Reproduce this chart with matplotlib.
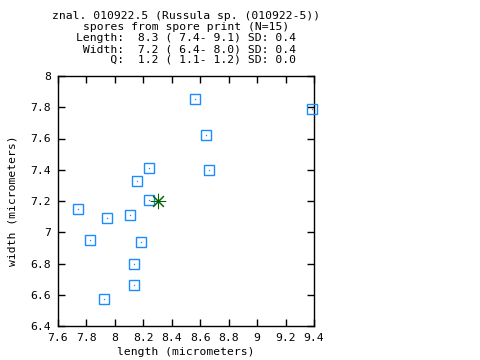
import matplotlib
matplotlib.use("Agg")
import matplotlib.pyplot as plt

length = [8.563, 9.386, 8.640, 8.662, 8.240, 8.156, 8.240, 7.740, 7.945, 8.106,
          7.825, 8.184, 8.134, 8.134, 7.923]
width = [7.853, 7.789, 7.622, 7.398, 7.411, 7.328, 7.206, 7.149, 7.091, 7.110,
         6.950, 6.938, 6.797, 6.662, 6.573]
mean_len = [8.3]
mean_wid = [7.2]
xticks = [7.6, 7.8, 8.0, 8.2, 8.4, 8.6, 8.8, 9.0, 9.2, 9.4]
xticklabels = ["7.6", "7.8", "8", "8.2", "8.4", "8.6", "8.8", "9", "9.2", "9.4"]
yticks = [6.4, 6.6, 6.8, 7.0, 7.2, 7.4, 7.6, 7.8, 8.0]
yticklabels = ["6.4", "6.6", "6.8", "7", "7.2", "7.4", "7.6", "7.8", "8"]
title_lines = [
    "znal. 010922.5 (Russula sp. (010922-5))",
    "spores from spore print (N=15)",
    "Length:  8.3 ( 7.4- 9.1) SD: 0.4",
    " Width:  7.2 ( 6.4- 8.0) SD: 0.4",
    "     Q:  1.2 ( 1.1- 1.2) SD: 0.0",
]

W, H = 480, 360
fig = plt.figure(figsize=(4.8, 3.6), dpi=100)
ax = fig.add_axes([58 / W, 1 - 326 / H, 256 / W, 250 / H])

FONT = "DejaVu Sans Mono"
FS = 8.2
blue = "#1a8cff"

ax.plot(length, width, linestyle="none", marker="s", markersize=7.4,
        markerfacecolor="none", markeredgecolor=blue, markeredgewidth=1.0,
        clip_on=False, zorder=3)
ax.plot(length, width, linestyle="none", marker="s", markersize=0.9,
        markerfacecolor=blue, markeredgecolor="none", clip_on=False, zorder=3)
ax.plot(mean_len, mean_wid, linestyle="none", marker=(8, 2, 0), markersize=11,
        markeredgecolor="#006400", markeredgewidth=0.75, zorder=4)
ax.plot(mean_len, mean_wid, linestyle="none", marker="o", markersize=2.2,
        markerfacecolor="#006400", markeredgecolor="none", zorder=4)

ax.set_xlim(7.6, 9.4)
ax.set_ylim(6.4, 8.0)
ax.set_xticks(xticks)
ax.set_xticklabels(xticklabels, family=FONT, fontsize=FS)
ax.set_yticks(yticks)
ax.set_yticklabels(yticklabels, family=FONT, fontsize=FS)
ax.tick_params(direction="in", length=5, width=1, top=True, right=True,
               pad=5, colors="black")
for s in ax.spines.values():
    s.set_linewidth(1.0)

ax.set_xlabel("length (micrometers)", family=FONT, fontsize=FS, labelpad=3)
ax.set_ylabel("width (micrometers)", family=FONT, fontsize=FS, labelpad=9)

ys = [16, 27, 38, 49, 60]
for line, y in zip(title_lines, ys):
    fig.text(186 / W, 1 - y / H, line, family=FONT, fontsize=FS,
             ha="center", va="center")

fig.savefig("out.png", dpi=100)
